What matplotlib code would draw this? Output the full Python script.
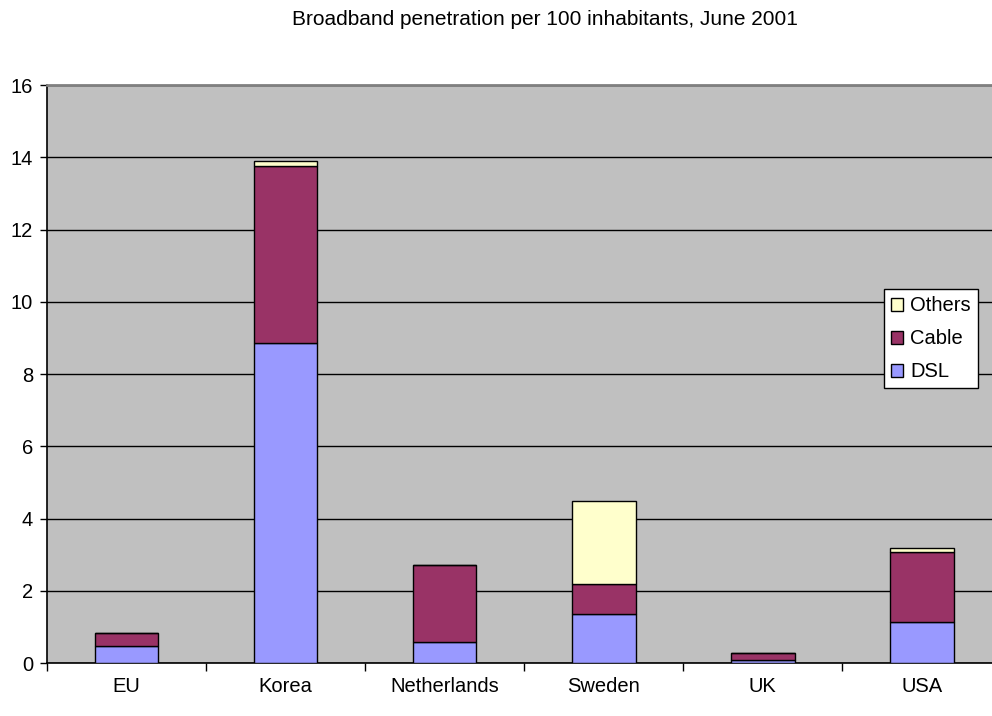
import numpy as np
import matplotlib.pyplot as plt

plt.rcParams['font.family'] = ['Liberation Sans', 'DejaVu Sans']

countries = ['EU', 'Korea', 'Netherlands', 'Sweden', 'UK', 'USA']
dsl = [0.47, 8.85, 0.59, 1.36, 0.07, 1.14]
cable = [0.36, 4.90, 2.12, 0.84, 0.21, 1.94]
others = [0.00, 0.15, 0.00, 2.29, 0.00, 0.11]
y_ticks = [0, 2, 4, 6, 8, 10, 12, 14, 16]

fig = plt.figure(figsize=(9.92, 7.16), dpi=100)
ax = fig.add_axes([0.0474, 0.074, 0.962, 0.807])
ax.set_facecolor('#C0C0C0')

x = np.arange(len(countries))
w = 0.4
b1 = ax.bar(x, dsl, w, color='#9999FF', edgecolor='black', linewidth=1, label='DSL', zorder=3)
b2 = ax.bar(x, cable, w, bottom=dsl, color='#993366', edgecolor='black', linewidth=1, label='Cable', zorder=3)
bottom2 = np.array(dsl) + np.array(cable)
b3 = ax.bar(x, others, w, bottom=bottom2, color='#FFFFCC', edgecolor='black', linewidth=1, label='Others', zorder=3)

ax.set_xlim(-0.5, len(countries) - 0.5)
ax.set_ylim(0, 16)
ax.set_yticks(y_ticks)
ax.yaxis.grid(True, color='black', linewidth=1)
ax.set_axisbelow(True)
ax.tick_params(axis='y', direction='out', length=5, width=1, labelsize=14.5, pad=5)

# category boundaries get the tick marks, labels sit in the middle
ax.set_xticks(np.arange(-0.5, len(countries) + 0.5, 1))
ax.set_xticklabels([])
ax.set_xticks(x, minor=True)
ax.set_xticklabels(countries, minor=True)
ax.tick_params(axis='x', which='major', direction='out', length=6, width=1)
ax.tick_params(axis='x', which='minor', length=0, labelsize=14.5, pad=10)

ax.spines['top'].set_color('#808080')
ax.spines['top'].set_linewidth(2)
ax.spines['right'].set_visible(False)
ax.spines['left'].set_linewidth(1.2)
ax.spines['bottom'].set_linewidth(1.2)

fig.text(0.549, 0.973, 'Broadband penetration per 100 inhabitants, June 2001',
         ha='center', va='center', fontsize=15)

leg = ax.legend(handles=[b3, b2, b1], loc='upper left', bbox_to_anchor=(0.877, 0.647),
                frameon=True, fancybox=False, edgecolor='black', fontsize=14.5,
                handlelength=0.6, handleheight=0.6, handletextpad=0.35,
                borderpad=0.35, labelspacing=0.7, borderaxespad=0)
leg.get_frame().set_linewidth(1)
leg.get_frame().set_facecolor('white')
leg.get_frame().set_alpha(1)

fig.savefig('out.png', dpi=100)
